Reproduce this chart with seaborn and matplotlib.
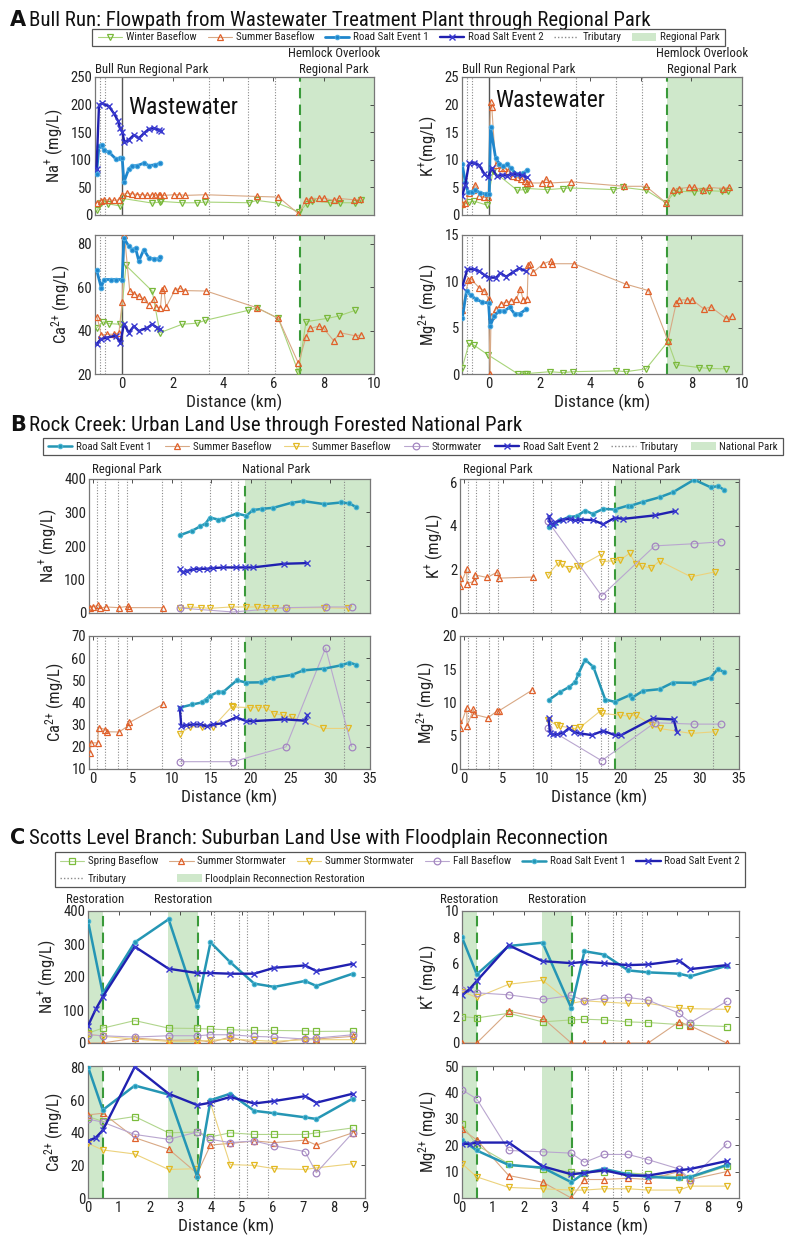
import matplotlib
matplotlib.use("Agg")
import matplotlib.pyplot as plt
import matplotlib.font_manager as fm
from matplotlib.lines import Line2D
from matplotlib.patches import Patch, Rectangle
import seaborn as sns

# ---------------------------------------------------------------- data
# Panel A: Bull Run (distance km, concentration mg/L)
A_NA_WINTER = [(-0.99, 8.4), (-0.86, 21.6), (-0.57, 20.4), (-0.07, 16.2), (0.02, 30), (1.19, 21.6),
               (1.49, 23.4), (1.56, 24.6), (2.38, 22.2), (2.97, 22.2), (3.3, 23.4), (5.02, 22.2),
               (5.35, 26.4), (6.17, 21.6), (7.03, 5.4), (7.33, 20.4), (7.55, 26), (8.26, 22.2),
               (8.65, 22.2), (9.25, 22.2), (9.5, 26.4)]
A_NA_SUMMER = [(-1.02, 21.6), (-0.86, 26), (-0.73, 27.6), (-0.53, 27.6), (-0.33, 26.4), (-0.13, 27.6),
               (0.0, 37), (0.2, 39.7), (0.4, 38.5), (0.6, 37), (0.79, 37), (1.0, 35.5), (1.19, 36.7),
               (1.32, 35.5), (1.45, 37), (1.52, 35.5), (1.65, 35.5), (2.05, 36.7), (2.25, 37),
               (2.5, 35.5), (3.3, 36.7), (5.35, 33.6), (6.2, 32.5), (7.0, 2.4), (7.3, 27.6),
               (7.5, 29.4), (7.83, 30), (8.0, 30.6), (8.4, 26.4), (8.6, 30), (9.2, 27.6), (9.45, 28.8)]
A_NA_EV1 = [(-1.02, 74.5), (-0.92, 125.6), (-0.82, 127), (-0.73, 117), (-0.53, 114), (-0.26, 102),
            (-0.09, 103), (0.0, 103), (0.07, 59.5), (0.26, 83.5), (0.4, 89), (0.6, 89.5), (0.86, 94),
            (1.06, 89.5), (1.32, 91), (1.52, 94)]
A_NA_EV2 = [(-1.02, 83.5), (-0.92, 199.5), (-0.8, 202), (-0.53, 197), (-0.33, 184), (-0.17, 171),
            (-0.09, 157), (0.0, 151), (0.09, 132), (0.26, 136), (0.46, 145), (0.66, 139), (0.86, 148),
            (1.06, 156), (1.25, 157), (1.45, 154), (1.55, 153)]

A_CA_WINTER = [(-1.0, 41.4), (-0.75, 44), (-0.53, 43.2), (-0.07, 42.9), (0.15, 70), (1.19, 58.2),
               (1.5, 39), (2.38, 42.9), (2.97, 43.4), (3.3, 44.7), (5.0, 49.3), (5.35, 50.5),
               (6.2, 45.6), (7.0, 20.8), (7.3, 44.1), (8.15, 45.6), (8.6, 46.7), (9.25, 49.3)]
A_CA_SUMMER = [(-1.0, 46.4), (-0.83, 38), (-0.6, 38.3), (-0.33, 38.3), (-0.13, 39), (0.0, 53.3),
               (0.09, 83.8), (0.3, 58.2), (0.46, 57), (0.66, 56), (0.86, 54.4), (1.06, 51.8),
               (1.25, 54.7), (1.36, 50.8), (1.52, 50.5), (1.58, 58.8), (1.65, 59.4), (1.74, 50.8),
               (2.1, 58.8), (2.3, 59.4), (2.5, 58.4), (3.34, 58.2), (5.35, 50.5), (6.2, 45.6),
               (7.0, 24.9), (7.3, 37.1), (7.45, 41), (7.8, 42), (8.0, 41), (8.4, 35.3), (8.65, 39),
               (9.25, 37.6), (9.5, 38)]
A_CA_EV1 = [(-1.02, 68), (-0.83, 59.7), (-0.73, 63.5), (-0.46, 63.5), (-0.26, 63.5), (0.0, 63.5),
            (0.07, 82.6), (0.26, 78.8), (0.4, 77.3), (0.53, 78), (0.66, 72), (0.86, 77.3),
            (1.06, 73.4), (1.25, 73), (1.45, 73), (1.52, 74)]
A_CA_EV2 = [(-1.02, 33.7), (-0.86, 36), (-0.6, 36.8), (-0.26, 37.6), (-0.07, 34.5), (0.07, 43.2),
            (0.26, 39), (0.46, 42), (0.66, 39.8), (1.0, 41.3), (1.19, 42.9), (1.39, 41.3), (1.52, 40.6)]

A_K_WINTER = [(-1.07, 1.8), (-0.8, 2.3), (-0.6, 2.5), (-0.1, 1.8), (0.15, 8.0), (1.1, 4.5), (1.4, 4.6),
              (1.5, 4.8), (2.3, 4.6), (2.9, 4.8), (3.2, 4.9), (4.9, 4.6), (5.3, 5.0), (6.2, 4.5),
              (7.0, 2.2), (7.3, 4.0), (7.5, 4.3), (8.1, 4.2), (8.4, 4.4), (8.7, 4.4), (9.2, 4.3), (9.45, 4.4)]
A_K_SUMMER = [(-1.07, 2.0), (-0.95, 2.2), (-0.8, 4.0), (-0.65, 4.5), (-0.55, 5.5), (-0.4, 3.5),
              (-0.2, 3.2), (-0.05, 3.2), (0.05, 20.5), (0.1, 19.5), (0.25, 9.0), (0.45, 8.5),
              (0.6, 8.5), (0.75, 8.0), (0.95, 7.0), (1.1, 6.8), (1.25, 6.5), (1.4, 6.2), (1.5, 5.8),
              (1.6, 5.8), (2.1, 5.8), (2.25, 6.5), (2.4, 5.8), (3.25, 6.0), (5.35, 5.2), (6.2, 5.2),
              (7.0, 2.2), (7.25, 4.5), (7.5, 4.8), (7.9, 5.0), (8.1, 5.0), (8.45, 4.6), (8.7, 5.0),
              (9.25, 4.8), (9.5, 5.0)]
A_K_EV1 = [(-1.07, 9.2), (-0.95, 6.0), (-0.85, 4.2), (-0.7, 4.2), (-0.55, 4.5), (-0.35, 4.0),
           (-0.15, 3.8), (0.0, 3.8), (0.05, 16.0), (0.25, 10.3), (0.4, 9.3), (0.55, 8.8), (0.7, 9.2),
           (0.85, 8.5), (1.05, 7.5), (1.2, 7.4), (1.35, 7.6), (1.5, 8.1)]
A_K_EV2 = [(-1.07, 3.5), (-0.95, 5.5), (-0.8, 9.4), (-0.6, 9.5), (-0.4, 9.0), (-0.2, 7.5), (-0.05, 6.8),
           (0.1, 8.5), (0.3, 7.0), (0.5, 7.3), (0.7, 7.1), (0.9, 7.5), (1.1, 7.4), (1.3, 7.2), (1.5, 6.8)]

A_MG_WINTER = [(-1.07, 0.7), (-0.8, 3.3), (-0.6, 3.1), (-0.07, 2.1), (1.14, 0.0), (1.4, 0.05), (1.5, 0.05),
               (2.4, 0.25), (2.9, 0.15), (3.3, 0.25), (5.0, 0.35), (5.4, 0.25), (6.2, 0.55), (7.07, 3.5),
               (7.4, 1.0), (8.3, 0.7), (8.7, 0.6), (9.35, 0.55)]
A_MG_SUMMER = [(-1.07, 6.9), (-0.83, 10.1), (-0.74, 10.3), (-0.4, 9.3), (-0.2, 9.0), (-0.03, 8.1),
               (0.03, 0.0), (0.07, 6.25), (0.27, 7.0), (0.47, 7.6), (0.67, 7.75), (0.87, 7.9),
               (1.07, 8.1), (1.23, 9.2), (1.34, 8.0), (1.5, 8.1), (1.54, 11.8), (1.6, 11.9),
               (1.74, 11.0), (2.14, 11.9), (2.43, 12.2), (2.5, 11.9), (3.35, 11.9), (5.4, 9.7),
               (6.3, 9.0), (7.07, 3.6), (7.4, 7.7), (7.5, 8.0), (7.83, 8.0), (8.03, 8.0), (8.5, 7.0),
               (8.76, 7.25), (9.37, 6.0), (9.6, 6.25)]
A_MG_EV1 = [(-1.07, 6.0), (-0.9, 9.0), (-0.74, 8.5), (-0.54, 8.1), (-0.27, 7.75), (-0.03, 7.65),
            (0.03, 5.15), (0.2, 6.3), (0.4, 6.8), (0.6, 6.8), (0.8, 7.2), (1.0, 6.5), (1.2, 6.5), (1.47, 7.0)]
A_MG_EV2 = [(-1.07, 9.4), (-0.87, 11.3), (-0.6, 11.3), (-0.4, 11.1), (-0.2, 10.7), (0.0, 10.4),
            (0.27, 10.4), (0.44, 10.9), (0.67, 10.5), (0.94, 11.0), (1.18, 11.4), (1.47, 11.1)]

A_TRIBS = [-0.9, -0.7, 3.45, 5.0, 6.05]
A_PARK = (7.05, 10.0)

# Panel B: Rock Creek
B_NA_EV1 = [(11.0, 232), (12.6, 246), (13.6, 259), (14.25, 267), (14.8, 285), (15.85, 279), (16.5, 282),
            (18.2, 297), (19.4, 290), (20.2, 307), (21.4, 311), (22.8, 314), (25.1, 329), (26.6, 334),
            (29.25, 325), (31.4, 330), (32.4, 327), (33.2, 317)]
B_NA_EV2 = [(11.0, 131), (11.35, 122), (11.9, 126), (12.7, 130), (13.45, 132), (14.4, 132), (15.2, 134),
            (16.5, 136), (18.1, 136), (19.2, 136), (20.2, 136), (24.2, 147), (27.1, 149)]
B_NA_SUMMER = [(-0.3, 16), (0.0, 18), (0.7, 23), (1.0, 15), (1.7, 18), (3.3, 16), (4.5, 20), (4.65, 16), (8.9, 16)]
B_NA_SUMMER2 = [(11.0, 15), (12.3, 18), (13.7, 16), (14.8, 14), (17.5, 18), (19.4, 18), (20.7, 18),
                (21.9, 16), (23.0, 16), (24.4, 15), (29.25, 16), (32.2, 14)]
B_NA_STORM = [(11.0, 15), (17.7, 3), (24.4, 16), (29.4, 18), (32.7, 18)]

B_CA_EV1 = [(11.0, 37.7), (12.6, 39.1), (13.75, 40), (14.25, 41.3), (14.8, 43), (15.85, 44.8), (16.5, 44.8),
            (18.2, 50), (19.4, 49), (21.3, 49.1), (21.7, 50), (22.8, 51.2), (25.1, 52.4), (26.6, 54.5),
            (29.25, 55.3), (31.4, 56.8), (32.4, 58), (33.2, 57.1)]
B_CA_EV2 = [(11.0, 37.7), (11.2, 29.3), (11.85, 29.8), (12.7, 30.1), (13.55, 30.1), (14.4, 29.3),
            (15.2, 30.1), (16.4, 30.6), (18.1, 33.3), (19.4, 31.6), (20.2, 31.6), (24.2, 32.4),
            (26.8, 31.8), (27.1, 34.4)]
B_CA_SUMMER = [(-0.3, 17.3), (-0.2, 21.8), (0.65, 21.8), (0.75, 28.7), (1.6, 27.8), (1.8, 26.8),
               (3.35, 26.7), (4.5, 29.5), (4.65, 31), (8.9, 39.2)]
B_CA_SUMMER2 = [(11.0, 26), (12.3, 29), (13.75, 29), (15.2, 29), (17.6, 38.3), (17.7, 38), (19.9, 37.7),
                (20.9, 37.7), (21.9, 37.7), (22.9, 35), (24.0, 34.3), (25.1, 33.5), (29.05, 28.3), (32.2, 28.3)]
B_CA_STORM = [(11.0, 13.3), (17.7, 13.3), (24.4, 20), (29.4, 64.6), (32.7, 20)]

B_K_EV1 = [(10.8, 3.94), (11.45, 4.1), (12.3, 4.25), (13.35, 4.4), (14.4, 4.45), (15.45, 4.7), (16.4, 4.55),
           (17.75, 4.78), (19.2, 4.75), (20.9, 4.93), (21.3, 4.93), (22.8, 5.1), (24.9, 5.31), (26.6, 5.54),
           (29.3, 6.12), (31.4, 5.77), (32.3, 5.82), (33.1, 5.66)]
B_K_EV2 = [(10.8, 4.45), (11.0, 4.14), (11.35, 4.04), (11.65, 4.17), (12.7, 4.29), (13.55, 4.32),
           (14.2, 4.25), (14.8, 4.29), (16.5, 4.26), (17.75, 4.07), (19.2, 4.37), (20.3, 4.32),
           (24.3, 4.48), (26.9, 4.68)]
B_K_SUMMER = [(-0.5, 1.6), (-0.45, 1.25), (0.4, 2.0), (0.45, 1.35), (1.3, 1.45), (1.4, 1.75), (3.0, 1.63),
              (4.3, 1.88), (4.45, 1.6), (8.8, 1.65)]
B_K_SUMMER2 = [(10.7, 1.74), (12.05, 2.31), (12.5, 2.24), (13.45, 2.01), (14.4, 2.16), (14.8, 2.16),
               (17.45, 2.69), (17.55, 2.36), (19.0, 2.39), (19.85, 2.42), (21.1, 2.74), (21.85, 2.27),
               (22.7, 2.16), (23.85, 2.06), (24.9, 2.39), (28.9, 1.66), (32.0, 1.89)]
B_K_STORM = [(10.7, 4.22), (17.55, 0.79), (24.3, 3.08), (29.3, 3.18), (32.7, 3.27)]

B_MG_EV1 = [(10.8, 10.35), (12.3, 11.6), (13.45, 12.35), (14.2, 13.1), (14.6, 14.35), (15.45, 16.45),
            (16.5, 15.35), (18.0, 10.45), (19.2, 10.1), (21.1, 11.1), (21.45, 10.75), (22.8, 11.75),
            (24.9, 12.0), (26.6, 13.0), (29.25, 12.95), (31.4, 13.75), (32.3, 15.0), (33.1, 14.6)]
B_MG_EV2 = [(10.8, 7.6), (11.0, 5.35), (11.35, 5.2), (11.85, 5.2), (12.7, 5.45), (13.35, 6.1), (14.0, 5.6),
            (14.8, 5.35), (16.3, 5.1), (17.75, 5.75), (19.2, 5.1), (20.05, 5.1), (24.05, 7.6),
            (26.7, 7.45), (27.1, 5.6)]
B_MG_SUMMER = [(-0.55, 7.35), (-0.5, 6.1), (0.4, 9.2), (0.45, 6.45), (1.25, 8.95), (1.35, 8.2),
               (3.1, 7.7), (4.3, 8.75), (4.5, 8.75), (8.7, 11.85)]
B_MG_SUMMER2 = [(10.7, 7.35), (11.85, 6.6), (12.3, 6.45), (14.0, 6.1), (14.8, 6.25), (17.4, 8.75),
                (17.55, 8.35), (19.85, 8.1), (21.0, 7.95), (21.85, 8.1), (24.0, 6.6), (24.9, 6.1),
                (28.9, 5.35), (32.0, 5.6)]
B_MG_STORM = [(10.7, 6.1), (17.55, 1.25), (24.3, 6.95), (29.3, 6.75), (32.7, 6.75)]

B_TRIBS = [0.6, 1.6, 3.2, 4.4, 8.8, 11.1, 14.8, 17.5, 18.3, 21.8, 31.7]
B_PARK = (19.2, 35.0)

# Panel C: Scotts Level Branch (shared sampling sites)
C_X = [0, 0.48, 1.52, 2.62, 3.55, 3.98, 4.62, 5.4, 6.05, 7.05, 7.42, 8.6]
C_X_EV2 = [0, 0.25, 0.48, 1.52, 2.62, 3.55, 3.98, 4.62, 5.4, 6.05, 7.05, 7.42, 8.6]

C_NA_SPRING = [30, 45, 68, 45, 44, 42, 40, 38, 38, 37, 35, 36]
C_NA_SUMMER = [0, 0, 15, 8, 10, 2, 18, 0, 0, 15, 12, 20]
C_NA_SUMMER2 = [28, 20, 12, 5, 5, 8, 12, 8, 5, 10, 10, 10]
C_NA_FALL = [25, 22, 18, 22, 22, 25, 25, 20, 18, 12, 15, 25]
C_NA_EV1 = [370, 150, 305, 375, 112, 305, 245, 180, 170, 188, 173, 210]
C_NA_EV2 = [52, 102, 140, 292, 225, 212, 212, 210, 210, 228, 235, 218, 240]

C_CA_SPRING = [50, 47, 50, 40, 40.5, 37.5, 40, 39, 39, 39, 40, 43]
C_CA_SUMMER = [51, 52, 37, 30, 15, 32.5, 33.5, 35, 34, 35.5, 32.5, 40]
C_CA_SUMMER2 = [33.5, 29.5, 27, 17.5, 18, 58, 20.5, 20, 18, 17.5, 18.5, 21]
C_CA_FALL = [48.5, 46.5, 39, 36, 40.5, 36, 34, 35, 32, 28.5, 15.5, 40]
C_CA_EV1 = [80.5, 54, 69, 63.5, 13, 60, 64, 53.5, 52, 49.5, 48.5, 61]
C_CA_EV2 = [35, 37, 41.5, 80.5, 64, 57, 58.5, 62, 58, 59.5, 62.5, 58.5, 64]

C_K_SPRING = [2.0, 1.9, 2.25, 1.6, 1.75, 1.8, 1.75, 1.6, 1.55, 1.4, 1.35, 1.25]
C_K_SUMMER = [0, 0, 2.4, 1.9, 0, 0, 0, 0, 0, 1.6, 1.3, 0]
C_K_SUMMER2 = [3.9, 3.45, 4.45, 4.75, 3.0, 3.2, 3.1, 3.0, 3.0, 2.65, 2.6, 2.55]
C_K_FALL = [4.0, 3.8, 3.65, 3.3, 3.6, 3.2, 3.4, 3.45, 3.25, 2.25, 1.55, 3.15]
C_K_EV1 = [8.0, 5.2, 7.35, 7.6, 2.65, 6.95, 6.7, 5.5, 5.35, 5.25, 5.05, 5.85]
C_K_EV2 = [3.6, 4.1, 4.7, 7.4, 6.2, 6.05, 6.15, 6.05, 5.9, 5.95, 6.25, 5.6, 5.9]

C_MG_SPRING = [28, 20, 13, 11, 10, 9.5, 10, 9.5, 9, 8, 7.5, 12]
C_MG_SUMMER = [26, 22, 8.5, 6, 0, 7, 7, 7.5, 7, 10, 7, 10]
C_MG_SUMMER2 = [13, 8, 4, 3.5, 3, 3, 3.5, 3.5, 3, 3, 4.5, 4.5]
C_MG_FALL = [41, 37.5, 18, 17.5, 17, 13.5, 16.5, 16.5, 14.5, 11, 7, 20.5]
C_MG_EV1 = [22, 18, 12.5, 11.5, 6, 9.5, 11, 9, 8, 7.5, 8, 12.5]
C_MG_EV2 = [20.5, 20.5, 21, 21, 12, 9, 9.5, 10.5, 8.5, 8.5, 10.5, 11, 14]

C_TRIBS = [4.08, 4.89, 5.18, 5.84]
C_PARKS = [(0.0, 0.48), (2.59, 3.57)]

TITLE_A = "Bull Run: Flowpath from Wastewater Treatment Plant through Regional Park"
TITLE_B = "Rock Creek: Urban Land Use through Forested National Park"
TITLE_C = "Scotts Level Branch: Suburban Land Use with Floodplain Reconnection"

# ---------------------------------------------------------------- style
sns.set_theme(style="white")


def pick_font():
    """Prefer a narrow sans face; fall back to a regular one."""
    entries = fm.fontManager.ttflist
    names = {f.name for f in entries}
    for name in ["Liberation Sans Narrow", "Roboto Condensed", "Open Sans Condensed"]:
        if name in names:
            return name, "normal"
    for name in ["Noto Sans", "Open Sans", "Roboto"]:
        for f in entries:
            if f.name == name and f.stretch in ("condensed", "semi-condensed") \
                    and f.style == "normal" and f.weight in (400, "normal", "regular"):
                return name, f.stretch
    return ("Liberation Sans" if "Liberation Sans" in names else "DejaVu Sans"), "normal"


FONT, STRETCH = pick_font()
plt.rcParams["font.family"] = [FONT, "DejaVu Sans"]
plt.rcParams["font.stretch"] = STRETCH
plt.rcParams["mathtext.fontset"] = "custom"
plt.rcParams["mathtext.rm"] = FONT
plt.rcParams["mathtext.default"] = "regular"

PARK = "#cfe8cb"
DASH = "#3a9a3a"
TRIB = "#8a8a8a"

STY = {
    "winter": dict(lc="#a8d47a", lw=0.8, m="v", ms=5, mfc="none", mec="#78b83a", mew=0.9),
    "summer": dict(lc="#d8a884", lw=0.8, m="^", ms=5, mfc="none", mec="#e0602a", mew=0.9),
    "ev1a": dict(lc="#1f86cc", lw=2.0, m="o", ms=3.2, mfc="#1f86cc", mec="#49a9e0", mew=0.8),
    "ev1": dict(lc="#2596b4", lw=1.8, m="o", ms=3.2, mfc="#2596b4", mec="#4ab6d4", mew=0.8),
    "ev2": dict(lc="#2020b0", lw=1.7, m="x", ms=3.8, mfc="#2020b0", mec="#3a3ad0", mew=1.0),
    "yellow": dict(lc="#ecd27c", lw=0.8, m="v", ms=5, mfc="none", mec="#e2b820", mew=0.9),
    "purple": dict(lc="#b9a6cf", lw=0.8, m="o", ms=4.8, mfc="none", mec="#a385c0", mew=0.9),
    "spring": dict(lc="#b0d58c", lw=0.8, m="s", ms=4.2, mfc="none", mec="#7bbd3c", mew=0.9),
}

W, H = 788, 1237
fig = plt.figure(figsize=(W / 100, H / 100), dpi=100)
fig.patch.set_facecolor("white")

# size the panel titles to their intended width in whichever face was found
_probe = fig.text(0, 0, TITLE_A, fontsize=14.5)
_w = _probe.get_window_extent(fig.canvas.get_renderer()).width
_probe.remove()
TITLE_FS = 14.5 * 620.0 / _w
CF = min(1.0, 620.0 / _w)


def fs(size):
    return size * CF


def rect(x0, y0, x1, y1):
    return [x0 / W, 1 - y1 / H, (x1 - x0) / W, (y1 - y0) / H]


def draw(ax, xs, ys, key, z=3):
    st = STY[key]
    sns.lineplot(x=list(xs), y=list(ys), ax=ax, sort=False, estimator=None, legend=False,
                 color=st["lc"], linewidth=st["lw"], marker=st["m"], markersize=st["ms"],
                 markerfacecolor=st["mfc"], markeredgecolor=st["mec"], markeredgewidth=st["mew"],
                 zorder=z)


def draw_pts(ax, pts, key, z=3):
    draw(ax, [p[0] for p in pts], [p[1] for p in pts], key, z)


def frame(ax, xlim, ylim, xticks, yticks, ylabel, xlabels):
    ax.set_xlim(xlim)
    ax.set_ylim(ylim)
    ax.set_xticks(xticks)
    ax.set_yticks(yticks)
    ax.tick_params(direction="in", top=True, right=True, length=3, width=0.6,
                   labelsize=fs(10.5), colors="#333333", pad=2, labelcolor="#222222")
    if xlabels:
        ax.set_xlabel("Distance (km)", fontsize=fs(12.5), color="#222222", labelpad=2)
    else:
        ax.set_xticklabels([])
    ax.set_ylabel(ylabel, fontsize=fs(12), color="#222222", labelpad=3)
    for s in ax.spines.values():
        s.set_color("#777777")
        s.set_linewidth(0.9)
    ax.set_facecolor("white")


def backdrop(ax, tribs, parks, dash_at, extra_solid=None):
    for a, b in parks:
        ax.axvspan(a, b, color=PARK, zorder=0, lw=0)
    for t in tribs:
        ax.axvline(t, color=TRIB, ls=(0, (1, 1.5)), lw=0.8, zorder=1)
    for d in dash_at:
        ax.axvline(d, color=DASH, ls=(0, (5, 3)), lw=1.5, zorder=2)
    if extra_solid is not None:
        ax.axvline(extra_solid, color="#555555", lw=1.0, zorder=2)


def legend_box(x0, y0, x1, y1):
    fig.patches.append(Rectangle((x0 / W, 1 - y1 / H), (x1 - x0) / W, (y1 - y0) / H,
                                 transform=fig.transFigure, fill=False, lw=0.9,
                                 edgecolor="#555555", zorder=5))


def handle(key):
    st = STY[key]
    return Line2D([], [], color=st["lc"], lw=st["lw"], marker=st["m"], markersize=st["ms"],
                  markerfacecolor=st["mfc"], markeredgecolor=st["mec"], markeredgewidth=st["mew"])


TRIB_H = Line2D([], [], color=TRIB, ls=(0, (1, 1.5)), lw=1.0)
PARK_H = Patch(facecolor=PARK, edgecolor="none")
LEG_FS = 7.9


def row_legend(handles, labels, x0, x1, yc, ncol):
    leg = fig.legend(handles, labels, loc="center",
                     bbox_to_anchor=(x0 / W, 1 - yc / H - 0.006, (x1 - x0) / W, 0.012),
                     bbox_transform=fig.transFigure, mode="expand",
                     ncol=ncol, frameon=False, fontsize=fs(LEG_FS), handlelength=2.2,
                     handletextpad=0.35, borderaxespad=0, borderpad=0, columnspacing=1.0)
    for t in leg.get_texts():
        t.set_color("#222222")
    return leg


def panel_title(letter, text, y):
    fig.text(10 / W, 1 - y / H, letter, fontsize=15, fontweight="bold", va="center", ha="left",
             color="#111111", family="DejaVu Sans")
    fig.text(29 / W, 1 - y / H, text, fontsize=TITLE_FS, va="center", ha="left", color="#111111")


# ---------------------------------------------------------------- panel A
panel_title("A", TITLE_A, 20)
legend_box(92, 29, 725, 46)
row_legend([handle("winter"), handle("summer"), handle("ev1a"), handle("ev2"), TRIB_H, PARK_H],
           ["Winter Baseflow", "Summer Baseflow", "Road Salt Event 1", "Road Salt Event 2",
            "Tributary", "Regional Park"], 98, 720, 37.5, 6)

A_XLIM = (-1.08, 10)
A_XT = [0, 2, 4, 6, 8, 10]
a_specs = [
    (rect(95, 77, 374, 215), "Na", (0, 250), [0, 50, 100, 150, 200, 250], r"Na$^{{+}}$ (mg/L)",
     [A_NA_WINTER, A_NA_SUMMER, A_NA_EV1, A_NA_EV2], False),
    (rect(95, 235, 374, 374), "Ca", (20, 84), [20, 40, 60, 80], r"Ca$^{2{+}}$ (mg/L)",
     [A_CA_WINTER, A_CA_SUMMER, A_CA_EV1, A_CA_EV2], True),
    (rect(462, 77, 742, 215), "K", (0, 25), [0, 5, 10, 15, 20, 25], r"K$^{{+}}$(mg/L)",
     [A_K_WINTER, A_K_SUMMER, A_K_EV1, A_K_EV2], False),
    (rect(462, 235, 742, 374), "Mg", (0, 15), [0, 5, 10, 15], r"Mg$^{2{+}}$ (mg/L)",
     [A_MG_WINTER, A_MG_SUMMER, A_MG_EV1, A_MG_EV2], True),
]
for pos, ion, ylim, yt, ylab, series, bottom in a_specs:
    ax = fig.add_axes(pos)
    backdrop(ax, A_TRIBS, [A_PARK], [A_PARK[0]], extra_solid=0.0)
    for pts, key in zip(series, ["winter", "summer", "ev1a", "ev2"]):
        draw_pts(ax, pts, key, z=4 if key.startswith("ev") else 3)
    frame(ax, A_XLIM, ylim, A_XT, yt, ylab, bottom)
    if not bottom:
        ax.text(0.0, 1.01, "Bull Run Regional Park", transform=ax.transAxes, fontsize=fs(9.2),
                ha="left", va="bottom", color="#222222")
        ax.text(8.4, ylim[1] * 1.01, "Hemlock Overlook\nRegional Park", fontsize=fs(9.2),
                ha="center", va="bottom", color="#222222", linespacing=1.25)
    if ion == "Na":
        ax.text(0.25, 195, "Wastewater", fontsize=fs(17), ha="left", va="center", color="#111111")
    if ion == "K":
        ax.text(0.25, 20.8, "Wastewater", fontsize=fs(17), ha="left", va="center", color="#111111")

# ---------------------------------------------------------------- panel B
panel_title("B", TITLE_B, 425)
legend_box(43, 438, 783, 455)
row_legend([handle("ev1"), handle("summer"), handle("yellow"), handle("purple"), handle("ev2"),
            TRIB_H, PARK_H],
           ["Road Salt Event 1", "Summer Baseflow", "Summer Baseflow", "Stormwater",
            "Road Salt Event 2", "Tributary", "National Park"], 48, 778, 446.5, 7)

B_XLIM = (-0.45, 35)
B_XT = [0, 5, 10, 15, 20, 25, 30, 35]
b_specs = [
    (rect(89, 479, 370, 613), (0, 400), [0, 100, 200, 300, 400], r"Na$^{{+}}$ (mg/L)",
     [B_NA_SUMMER, B_NA_SUMMER2, B_NA_STORM, B_NA_EV1, B_NA_EV2], False),
    (rect(89, 636, 370, 769), (10, 70), [10, 20, 30, 40, 50, 60, 70], r"Ca$^{2{+}}$ (mg/L)",
     [B_CA_SUMMER, B_CA_SUMMER2, B_CA_STORM, B_CA_EV1, B_CA_EV2], True),
    (rect(460, 479, 739, 613), (0, 6.15), [0, 2, 4, 6], r"K$^{{+}}$ (mg/L)",
     [B_K_SUMMER, B_K_SUMMER2, B_K_STORM, B_K_EV1, B_K_EV2], False),
    (rect(460, 636, 739, 769), (0, 20), [0, 5, 10, 15, 20], r"Mg$^{2{+}}$ (mg/L)",
     [B_MG_SUMMER, B_MG_SUMMER2, B_MG_STORM, B_MG_EV1, B_MG_EV2], True),
]
for pos, ylim, yt, ylab, series, bottom in b_specs:
    ax = fig.add_axes(pos)
    backdrop(ax, B_TRIBS, [B_PARK], [B_PARK[0]])
    for pts, key in zip(series, ["summer", "yellow", "purple", "ev1", "ev2"]):
        draw_pts(ax, pts, key, z=4 if key.startswith("ev") else 3)
    frame(ax, B_XLIM, ylim, B_XT, yt, ylab, bottom)
    if not bottom:
        ax.text(0.01, 1.02, "Regional Park", transform=ax.transAxes, fontsize=fs(9.2),
                ha="left", va="bottom", color="#222222")
        ax.text(B_PARK[0] - 0.4, ylim[1] * 1.02, "National Park", fontsize=fs(9.2),
                ha="left", va="bottom", color="#222222")

# ---------------------------------------------------------------- panel C
panel_title("C", TITLE_C, 838)
legend_box(55, 852, 745, 887)
row_legend([handle("spring"), handle("summer"), handle("yellow"), handle("purple"), handle("ev1"),
            handle("ev2")],
           ["Spring Baseflow", "Summer Stormwater", "Summer Stormwater", "Fall Baseflow",
            "Road Salt Event 1", "Road Salt Event 2"], 60, 740, 861, 6)
leg2 = fig.legend([TRIB_H, PARK_H], ["Tributary", "Floodplain Reconnection Restoration"],
                  loc="center left", bbox_to_anchor=(60 / W, 1 - 878.5 / H),
                  bbox_transform=fig.transFigure, ncol=2, frameon=False, fontsize=fs(LEG_FS),
                  handlelength=2.2, handletextpad=0.35, borderaxespad=0, borderpad=0,
                  columnspacing=4.6)

C_XLIM = (0, 9)
C_XT = list(range(10))
c_specs = [
    (rect(88, 911, 365, 1043), (0, 400), [0, 100, 200, 300, 400], r"Na$^{{+}}$ (mg/L)",
     [C_NA_SPRING, C_NA_SUMMER, C_NA_SUMMER2, C_NA_FALL, C_NA_EV1, C_NA_EV2], False),
    (rect(88, 1066, 365, 1198), (0, 81), [0, 20, 40, 60, 80], r"Ca$^{2{+}}$ (mg/L)",
     [C_CA_SPRING, C_CA_SUMMER, C_CA_SUMMER2, C_CA_FALL, C_CA_EV1, C_CA_EV2], True),
    (rect(462, 911, 739, 1043), (0, 10), [0, 2, 4, 6, 8, 10], r"K$^{{+}}$ (mg/L)",
     [C_K_SPRING, C_K_SUMMER, C_K_SUMMER2, C_K_FALL, C_K_EV1, C_K_EV2], False),
    (rect(462, 1066, 739, 1198), (0, 50), [0, 10, 20, 30, 40, 50], r"Mg$^{2{+}}$ (mg/L)",
     [C_MG_SPRING, C_MG_SUMMER, C_MG_SUMMER2, C_MG_FALL, C_MG_EV1, C_MG_EV2], True),
]
for pos, ylim, yt, ylab, series, bottom in c_specs:
    ax = fig.add_axes(pos)
    backdrop(ax, C_TRIBS, C_PARKS, [p[1] for p in C_PARKS])
    keys = ["spring", "summer", "yellow", "purple", "ev1", "ev2"]
    for vals, key in zip(series, keys):
        xs = C_X_EV2 if key == "ev2" else C_X
        draw(ax, xs, vals, key, z=4 if key.startswith("ev") else 3)
    frame(ax, C_XLIM, ylim, C_XT, yt, ylab, bottom)
    if not bottom:
        for a, b in C_PARKS:
            ax.text((a + b) / 2, ylim[1] * 1.04, "Restoration", fontsize=fs(9.2),
                    ha="center", va="bottom", color="#222222")

fig.savefig("out.png", dpi=100, facecolor="white")
